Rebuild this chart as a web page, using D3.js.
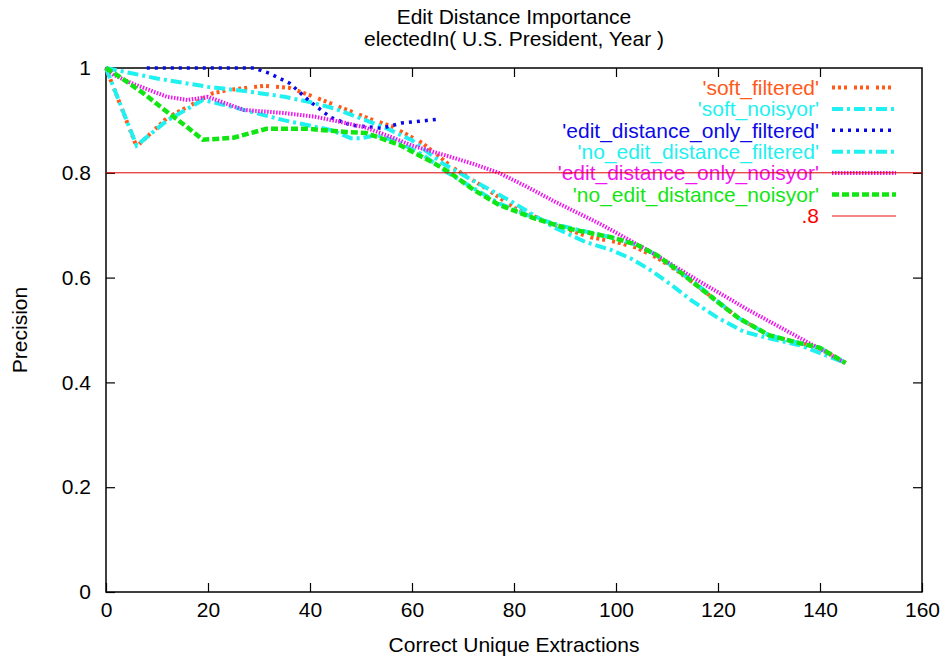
<!DOCTYPE html>
<html>
<head>
<meta charset="utf-8">
<script src="https://cdn.jsdelivr.net/npm/d3@7"></script>
<style>
  body { margin: 0; background: #fff; }
  svg text { font-family: "Liberation Sans", Arial, Helvetica, sans-serif; }
</style>
</head>
<body>
<div id="chart"></div>
<script>
// data: [extractions, precision]
const softFiltered = [[0,1],[6,0.85],[12,0.905],[21,0.952],[24,0.958],[31,0.966],[36,0.962],[40,0.948],[46,0.925],[52,0.902],[56,0.889],[62,0.857],[68,0.81],[75,0.767],[80,0.733],[88,0.70],[95,0.677],[100,0.668],[104,0.657],[108,0.638],[112,0.613],[116,0.584],[124,0.523],[130,0.49],[136,0.475],[140,0.466],[145,0.437]]
const softNoisyor = [[0,1],[5,0.99],[10,0.98],[20,0.964],[28,0.955],[35,0.945],[40,0.935],[45,0.922],[51,0.90],[55,0.885],[60,0.862],[66,0.818],[72,0.785],[79,0.748],[88,0.695],[94,0.668],[99,0.653],[103,0.636],[107,0.613],[111,0.585],[115,0.555],[120,0.523],[125,0.497],[130,0.484],[136,0.471],[145,0.437]]
const editOnlyFiltered = [[8,1],[15,1],[22,1],[29,1],[32,0.99],[36,0.971],[40,0.936],[44,0.906],[48,0.891],[51,0.888],[54,0.885],[58,0.895],[65,0.902]]
const noEditFiltered = [[0,1],[6,0.852],[12,0.90],[19,0.939],[23,0.93],[27,0.92],[35,0.90],[44,0.882],[48,0.866],[50,0.866],[53,0.872],[57,0.86],[62,0.835],[67,0.80],[77,0.742],[84,0.714],[90,0.697],[99,0.677],[104,0.663],[108,0.643],[112,0.615],[116,0.586],[124,0.523],[130,0.49],[136,0.475],[140,0.466],[145,0.437]]
const editOnlyNoisyor = [[0,1],[1.5,0.987],[5,0.971],[12,0.945],[16,0.939],[20,0.945],[27,0.92],[35,0.914],[41,0.907],[47,0.895],[51,0.886],[56,0.868],[60,0.852],[67,0.832],[72,0.817],[77,0.80],[82,0.776],[88,0.745],[97,0.702],[107,0.648],[116.5,0.592],[126,0.538],[136,0.485],[145,0.437]]
const noEditNoisyor = [[0,1],[2.7,0.983],[7.3,0.952],[12,0.916],[15.8,0.888],[19,0.863],[25,0.867],[31.5,0.884],[39.4,0.884],[47,0.878],[51,0.876],[57.6,0.853],[64,0.82],[67.5,0.80],[72,0.768],[77,0.739],[84,0.713],[90,0.695],[99,0.677],[104,0.663],[108,0.643],[112,0.615],[116,0.584],[120,0.553],[124,0.523],[130,0.49],[136,0.475],[140,0.466],[145,0.437]]
const threshold = 0.8

const seriesNames = ["'soft_filtered'", "'soft_noisyor'", "'edit_distance_only_filtered'", "'no_edit_distance_filtered'", "'edit_distance_only_noisyor'", "'no_edit_distance_noisyor'"]
const seriesData = [softFiltered, softNoisyor, editOnlyFiltered, noEditFiltered, editOnlyNoisyor, noEditNoisyor]
const xTicks = [0, 20, 40, 60, 80, 100, 120, 140, 160]
const yTicks = [0, 0.2, 0.4, 0.6, 0.8, 1]

// line looks, same order as the series
const styles = [
    { color: "#ff5a1a", width: 4, dash: "3,3,3,3,3,7" },
    { color: "#1ff0f0", width: 4, dash: "11,4,3,4" },
    { color: "#0a0ae6", width: 3.5, dash: "3,5" },
    { color: "#1ff0f0", width: 4, dash: "11,4,3,4" },
    { color: "#f014f0", width: 4, dash: "1.5,1.5" },
    { color: "#12e612", width: 4.5, dash: "7,3" }
]

const width = 947, height = 662
const margin = { top: 68, right: 25, bottom: 70, left: 106 }

const svg = d3.select('#chart').append('svg')
    .attr('width', width)
    .attr('height', height)

const x = d3.scaleLinear().domain([0, 160]).range([margin.left, width - margin.right])
const y = d3.scaleLinear().domain([0, 1]).range([height - margin.bottom, margin.top])

// frame
svg.append('rect')
    .attr('x', x(0)).attr('y', y(1))
    .attr('width', x(160) - x(0)).attr('height', y(0) - y(1))
    .attr('fill', 'none').attr('stroke', '#000').attr('stroke-width', 1.5)

// axes, ticks pointing in, mirrored on the other sides
const fmtY = d => d === 0 || d === 1 ? String(d) : d3.format('.1f')(d)
const axStyle = g => {
    g.select('.domain').remove()
    g.selectAll('.tick line').attr('stroke', '#000').attr('stroke-width', 1.2)
    g.selectAll('.tick text').attr('font-size', 21).attr('fill', '#000')
}
svg.append('g').attr('transform', `translate(0,${y(0)})`)
    .call(d3.axisBottom(x).tickValues(xTicks).tickSizeInner(-9).tickPadding(10))
    .call(axStyle)
svg.append('g').attr('transform', `translate(0,${y(1)})`)
    .call(d3.axisTop(x).tickValues(xTicks.slice(1, -1)).tickSizeInner(-9).tickFormat(''))
    .call(axStyle)
svg.append('g').attr('transform', `translate(${x(0)},0)`)
    .call(d3.axisLeft(y).tickValues(yTicks).tickSizeInner(-9).tickPadding(15).tickFormat(fmtY))
    .call(axStyle)
svg.append('g').attr('transform', `translate(${x(160)},0)`)
    .call(d3.axisRight(y).tickValues(yTicks.slice(1, -1)).tickSizeInner(-9).tickFormat(''))
    .call(axStyle)

// titles
svg.append('text').attr('x', x(80)).attr('y', 24).attr('text-anchor', 'middle')
    .attr('font-size', 21).text('Edit Distance Importance')
svg.append('text').attr('x', x(80)).attr('y', 46).attr('text-anchor', 'middle')
    .attr('font-size', 21).text('electedIn( U.S. President, Year )')
svg.append('text').attr('x', x(80)).attr('y', 652).attr('text-anchor', 'middle')
    .attr('font-size', 21).text('Correct Unique Extractions')
svg.append('text').attr('transform', `translate(27,${y(0.5)}) rotate(-90)`)
    .attr('text-anchor', 'middle').attr('font-size', 21).text('Precision')

// series + legend
const line = d3.line().x(d => x(d[0])).y(d => y(d[1]))
const legX = 819, legY = 87.5, legStep = 21.4

seriesData.forEach((data, i) => {
    const s = styles[i]
    svg.append('path')
        .datum(data)
        .attr('d', line)
        .attr('fill', 'none')
        .attr('stroke', s.color)
        .attr('stroke-width', s.width)
        .attr('stroke-dasharray', s.dash)

    svg.append('text')
        .attr('x', legX).attr('y', legY + i * legStep).attr('dy', '0.35em')
        .attr('text-anchor', 'end').attr('font-size', 21).attr('fill', s.color)
        .text(seriesNames[i])
    svg.append('line')
        .attr('x1', legX + 13).attr('x2', legX + 77)
        .attr('y1', legY + i * legStep).attr('y2', legY + i * legStep)
        .attr('stroke', s.color).attr('stroke-width', s.width)
        .attr('stroke-dasharray', s.dash)
})

// .8 reference line
svg.append('line')
    .attr('x1', x(0)).attr('x2', x(160))
    .attr('y1', y(threshold)).attr('y2', y(threshold))
    .attr('stroke', '#e00000').attr('stroke-width', 1)
svg.append('text')
    .attr('x', legX).attr('y', legY + 6 * legStep).attr('dy', '0.35em')
    .attr('text-anchor', 'end').attr('font-size', 21).attr('fill', '#ff0000')
    .text('.8')
svg.append('line')
    .attr('x1', legX + 13).attr('x2', legX + 77)
    .attr('y1', legY + 6 * legStep).attr('y2', legY + 6 * legStep)
    .attr('stroke', '#f06060').attr('stroke-width', 1.5)
</script>
</body>
</html>
